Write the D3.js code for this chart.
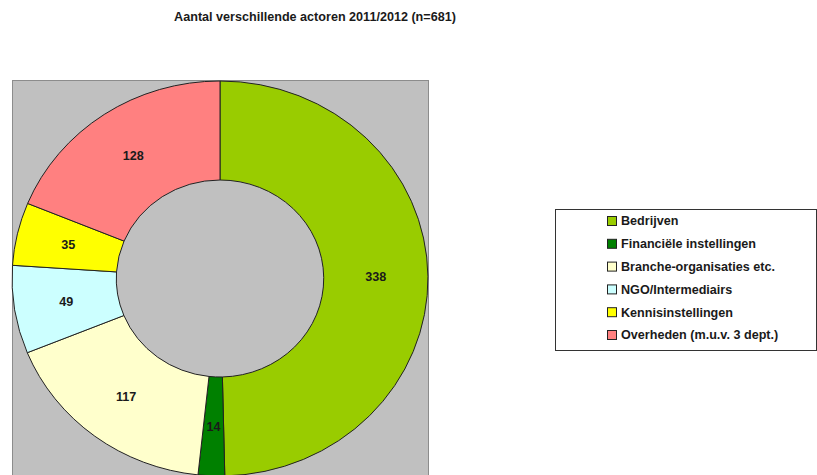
<!DOCTYPE html>
<html>
<head>
<meta charset="utf-8">
<script src="https://cdn.jsdelivr.net/npm/d3@7"></script>
<style>
  body { margin: 0; background: #fff; }
  svg text { font-family: "Liberation Sans", Arial, sans-serif; font-weight: bold; fill: #1a1a1a; }
</style>
</head>
<body>
<div id="chart"></div>
<script>
var categories = ["Bedrijven", "Financiële instellingen", "Branche-organisaties etc.", "NGO/Intermediairs", "Kennisinstellingen", "Overheden (m.u.v. 3 dept.)"];
var values = [338, 14, 117, 49, 35, 128];
var colors = ["#99cc00", "#008000", "#ffffcc", "#ccffff", "#ffff00", "#ff8080"];
var title = "Aantal verschillende actoren 2011/2012 (n=681)";

var width = 817, height = 475;
var fs = "12.6px";
var svg = d3.select("#chart").append("svg")
  .attr("width", width)
  .attr("height", height);

svg.append("text")
  .attr("x", 315).attr("y", 21)
  .attr("text-anchor", "middle")
  .style("font-size", fs)
  .text(title);

// plot area
svg.append("rect")
  .attr("x", 12.5).attr("y", 80.5)
  .attr("width", 416).attr("height", 420)
  .style("fill", "#c0c0c0")
  .style("stroke", "#8c8c8c")
  .style("stroke-width", 1);

var cx = 220, cy = 278.5, rOut = 197.5, rIn = 98.5, sx = 1.053;

var pie = d3.pie().sort(null).value(function(d) { return d; });
var arcs = pie(values);
var arc = d3.arc().innerRadius(rIn).outerRadius(rOut);
var labelArc = d3.arc().innerRadius((rIn + rOut) / 2).outerRadius((rIn + rOut) / 2);

var g = svg.append("g")
  .attr("transform", "translate(" + cx + "," + cy + ")");

g.append("g")
  .attr("transform", "scale(" + sx + ",1)")
  .selectAll("path")
  .data(arcs)
  .enter().append("path")
  .attr("d", arc)
  .attr("vector-effect", "non-scaling-stroke")
  .style("fill", function(d, i) { return colors[i]; })
  .style("stroke", "#222")
  .style("stroke-width", 1);

g.selectAll("text.lbl")
  .data(arcs)
  .enter().append("text")
  .attr("class", "lbl")
  .attr("x", function(d) { return labelArc.centroid(d)[0] * sx; })
  .attr("y", function(d) { return labelArc.centroid(d)[1]; })
  .attr("dy", "0.35em")
  .attr("text-anchor", "middle")
  .style("font-size", fs)
  .text(function(d) { return d.value; });

// legend
var lg = svg.append("g");
lg.append("rect")
  .attr("x", 555.5).attr("y", 209.5)
  .attr("width", 261).attr("height", 141)
  .style("fill", "#fff")
  .style("stroke", "#333")
  .style("stroke-width", 1);

var rowY = d3.scalePoint().domain(categories).range([221, 335]);

var items = lg.selectAll("g.item")
  .data(categories)
  .enter().append("g")
  .attr("class", "item")
  .attr("transform", function(d) { return "translate(607," + rowY(d) + ")"; });

items.append("rect")
  .attr("x", 0.5).attr("y", -4.5)
  .attr("width", 9).attr("height", 9)
  .style("fill", function(d, i) { return colors[i]; })
  .style("stroke", "#222")
  .style("stroke-width", 1);

items.append("text")
  .attr("x", 14).attr("y", 0)
  .attr("dy", "0.35em")
  .style("font-size", fs)
  .text(function(d) { return d; });
</script>
</body>
</html>
